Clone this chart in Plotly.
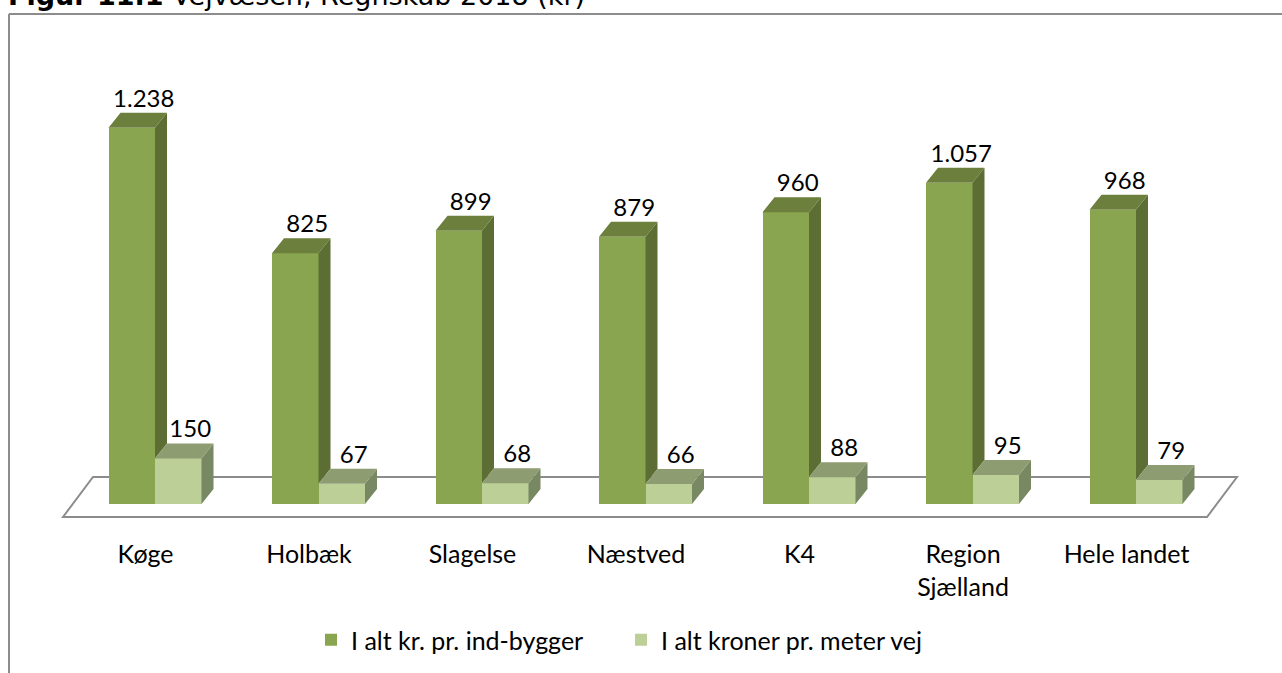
import plotly.graph_objects as go

# ---------------- data ----------------
categories = ["Køge", "Holbæk", "Slagelse", "Næstved", "K4", "Region<br>Sjælland", "Hele landet"]
per_inhabitant = [1238, 825, 899, 879, 960, 1057, 968]
per_meter = [150, 67, 68, 66, 88, 95, 79]
series_names = ["I alt kr. pr. ind-bygger", "I alt kroner pr. meter vej"]
title_bold = "Figur 11.1"
title_rest = "Vejvæsen, Regnskab 2018 (kr)"

# ---------------- geometry / style ----------------
W, H = 1282, 673
PX_X = 163.5          # pixels per category unit
PX_Y = 0.304          # pixels per value unit
X0_PX = 155           # pixel position of first category
BASE_PX = 504         # pixel row of bar baseline
PLOT_BOTTOM = 530     # pixel row of plot-area bottom
BW = 46.5 / PX_X      # bar width in x units
DX = 12 / PX_X        # 3D depth offset (x units)
DY = 15 / PX_Y        # 3D depth offset (y units)

DARK = dict(front="#8AA54F", side="#5C6E33", top="#6C7F3C")
LIGHT = dict(front="#BBCF96", side="#778863", top="#8E9C72")
FONT = "Lato, Carlito, Calibri, sans-serif"


def fmt(v):
    return f"{v:,}".replace(",", ".")


xs = list(range(len(categories)))

fig = go.Figure()

# front faces
fig.add_trace(go.Bar(x=xs, y=per_inhabitant, width=BW, offset=-BW, name=series_names[0],
                     marker=dict(color=DARK["front"], line=dict(width=0)), hoverinfo="skip"))
fig.add_trace(go.Bar(x=xs, y=per_meter, width=BW, offset=0, name=series_names[1],
                     marker=dict(color=LIGHT["front"], line=dict(width=0)), hoverinfo="skip"))


def poly_trace(polys, color):
    px, py = [], []
    for p in polys:
        for (a, b) in p:
            px.append(a)
            py.append(b)
        px.append(None)
        py.append(None)
    return go.Scatter(x=px, y=py, mode="lines", fill="toself", fillcolor=color,
                      line=dict(width=0, color=color), showlegend=False, hoverinfo="skip")


dark_side, dark_top, light_side, light_top = [], [], [], []
for i, (hd, hl) in enumerate(zip(per_inhabitant, per_meter)):
    # dark bar: x from i-BW to i
    x0, x1 = i - BW, i
    low = hl  # part of the side face below this is hidden by the light bar
    dark_side.append([(x1, low), (x1, hd), (x1 + DX, hd + DY), (x1 + DX, low + DY)])
    dark_top.append([(x0, hd), (x1, hd), (x1 + DX, hd + DY), (x0 + DX, hd + DY)])
    # light bar: x from i to i+BW
    x0, x1 = i, i + BW
    light_side.append([(x1, 0), (x1, hl), (x1 + DX, hl + DY), (x1 + DX, DY)])
    light_top.append([(x0, hl), (x1, hl), (x1 + DX, hl + DY), (x0 + DX, hl + DY)])

fig.add_trace(poly_trace(dark_side, DARK["side"]))
fig.add_trace(poly_trace(dark_top, DARK["top"]))
fig.add_trace(poly_trace(light_side, LIGHT["side"]))
fig.add_trace(poly_trace(light_top, LIGHT["top"]))

# data labels
fig.add_trace(go.Scatter(x=[i - BW / 2 + DX for i in xs], y=[v + DY for v in per_inhabitant],
                         mode="text", text=[fmt(v) for v in per_inhabitant], textposition="top center",
                         textfont=dict(family=FONT, size=24, color="#000000"),
                         showlegend=False, hoverinfo="skip", cliponaxis=False))
fig.add_trace(go.Scatter(x=[i + BW / 2 + DX for i in xs], y=[v + DY for v in per_meter],
                         mode="text", text=[fmt(v) for v in per_meter], textposition="top center",
                         textfont=dict(family=FONT, size=24, color="#000000"),
                         showlegend=False, hoverinfo="skip", cliponaxis=False))

# floor (3D plane) drawn below traces
fy_front = (BASE_PX - 517) / PX_Y
fy_back = (BASE_PX - 477) / PX_Y
fx_fl = (63 - X0_PX) / PX_X
fx_fr = (1207 - X0_PX) / PX_X
fx_bl = (93 - X0_PX) / PX_X
fx_br = (1237 - X0_PX) / PX_X
fig.add_shape(type="path", xref="x", yref="y", layer="below",
              path=f"M{fx_fl},{fy_front} L{fx_fr},{fy_front} L{fx_br},{fy_back} L{fx_bl},{fy_back} Z",
              line=dict(color="#8C8C8C", width=2), fillcolor="rgba(0,0,0,0)")

# chart frame (top and left edges visible)
PH = PLOT_BOTTOM
fy_top = (PH - 14) / PH
fx_left = 9 / W
fig.add_shape(type="line", xref="paper", yref="paper", x0=fx_left, x1=1.01, y0=fy_top, y1=fy_top,
              line=dict(color="#8C8C8C", width=2))
fig.add_shape(type="line", xref="paper", yref="paper", x0=fx_left, x1=fx_left, y0=fy_top, y1=(PH - H - 5) / PH,
              line=dict(color="#8C8C8C", width=2))

# title (cut off at the top, like the source)
fig.add_annotation(xref="paper", yref="paper", x=0, y=(PH - 12.5) / PH, xanchor="left", yanchor="bottom",
                   xshift=6,
                   text=f"<b>{title_bold}</b> {title_rest}", showarrow=False,
                   font=dict(family="DejaVu Sans, Verdana, sans-serif", size=27, color="#000000"))

fig.update_layout(
    width=W, height=H,
    margin=dict(l=0, r=0, t=0, b=H - PLOT_BOTTOM, autoexpand=False),
    paper_bgcolor="white", plot_bgcolor="white",
    barmode="overlay", bargap=0,
    xaxis=dict(range=[-X0_PX / PX_X, (W - X0_PX) / PX_X], showgrid=False, zeroline=False,
               showline=False, ticks="", tickmode="array",
               tickvals=[i - 9.5 / PX_X for i in xs], ticktext=categories, ticklabelstandoff=7,
               tickfont=dict(family=FONT, size=25, color="#000000"), fixedrange=True),
    yaxis=dict(range=[-(PLOT_BOTTOM - BASE_PX) / PX_Y, BASE_PX / PX_Y], visible=False, fixedrange=True),
    legend=dict(orientation="h", x=311 / W, xanchor="left", y=-(640 - PLOT_BOTTOM) / PLOT_BOTTOM,
                yanchor="middle", font=dict(family=FONT, size=25, color="#000000"),
                entrywidth=265, entrywidthmode="pixels",
                bgcolor="rgba(0,0,0,0)", itemclick=False, itemdoubleclick=False),
    showlegend=True,
)

fig.write_html("out.html", config={"displayModeBar": False},
               post_script="document.body.style.margin='0';document.body.style.overflow='hidden';")
